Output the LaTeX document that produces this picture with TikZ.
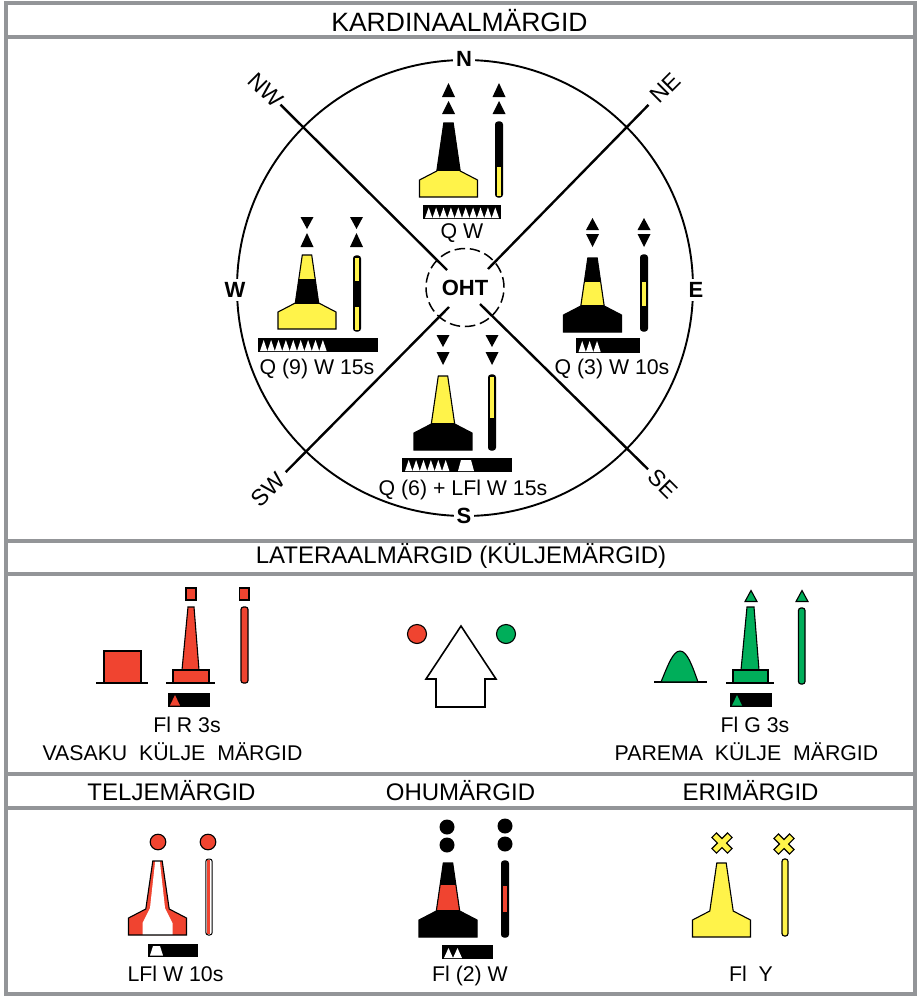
\documentclass[tikz,border=0pt]{standalone}
\usepackage{fontspec}
\setmainfont{Liberation Sans}
\definecolor{fr}{HTML}{939598}
\definecolor{mred}{HTML}{F04430}
\definecolor{mgreen}{HTML}{00AE5A}
\definecolor{myellow}{HTML}{FFF34A}
\tikzset{
 framel/.style={draw=fr,line width=4pt},
 head/.style={font=\fontsize{24}{26}\selectfont,inner sep=0pt,anchor=center},
 lab/.style={font=\fontsize{21.3}{23}\selectfont,inner sep=0pt,anchor=center},
 comp/.style={font=\fontsize{22}{24}\selectfont\bfseries,fill=white,inner sep=3pt},
 dirl/.style={font=\fontsize{23}{25}\selectfont,inner sep=1.5pt},
 ol/.style={draw=black,line width=1.1pt,line join=miter},
 spoke/.style={line width=2.4pt},
}
\def\buoypath{(-29,0) -- (-29,-17) -- (-11.7,-26) -- (-4.7,-74) -- (4.7,-74) -- (11.7,-26) -- (29,-17) -- (29,0) -- cycle}
% cx, bottom, base colour, bands
\newcommand\buoy[4]{\begin{scope}[shift={(#1,#2)}]
 \begin{scope}\clip \buoypath; \fill[#3] (-30,-80) rectangle (30,1); #4 \end{scope}
 \path[ol] \buoypath;
\end{scope}}
\newcommand\tribar[4]{\fill[black] (#1-#2,#3) -- (#1,#4) -- (#1+#2,#3) -- cycle;}
\newcommand\pole[4]{\begin{scope}
 \clip[rounded corners=2.5] (#1-3.4,#2) rectangle (#1+3.4,#3);
 \fill[black] (#1-4,#2-1) rectangle (#1+4,#3+1);
 #4
 \end{scope}
 \draw[line width=1.2pt,rounded corners=2.5] (#1-3.4,#2) rectangle (#1+3.4,#3);}
% x0, step, n, top, bottom
\newcommand\flashes[5]{\foreach \i in {1,...,#3}{
 \fill[white] ({#1+(\i-1)*#2},#5) -- ({#1+(\i-.5)*#2},#4) -- ({#1+\i*#2},#5) -- cycle;}}
\begin{document}
\begin{tikzpicture}[x=1pt,y=-1pt]
\useasboundingbox (0,0) rectangle (917,996);
\fill[white] (0,0) rectangle (917,996);
% frame
\draw[framel] (6,2.5) -- (915,2.5) -- (915,994) -- (6,994) -- cycle;
\foreach \yy in {37,541,574,774.3,807.6}{\draw[framel] (6,\yy) -- (915,\yy);}
% headers
\node[head,font=\fontsize{26.5}{28}\selectfont] (h1) at (459.5,21) {KARDINAALMÄRGID};
\node[head] (h2) at (461,556) {LATERAALMÄRGID (KÜLJEMÄRGID)};
\node[head] (h3) at (171.5,791) {TELJEMÄRGID};
\node[head] (h4) at (460.5,791) {OHUMÄRGID};
\node[head] (h5) at (750.5,791) {ERIMÄRGID};
% compass
\draw[line width=1.9pt] (465,288) circle (228);
\node[comp] (cn) at (464,59) {N};
\node[comp] (cs) at (464,516) {S};
\node[comp] (cw) at (235,290) {W};
\node[comp] (ce) at (696,290) {E};
\node[circle,draw,dash pattern=on 10.5pt off 4.8pt,line width=1.5pt,minimum size=78pt,inner sep=0pt,font=\fontsize{22}{24}\selectfont\bfseries] (oht) at (465,287.5) {OHT};
\node[dirl,rotate=-45] (nw) at (265.7,90) {NW};
\node[dirl,rotate=45] (ne) at (665,88) {NE};
\node[dirl,rotate=45] (sw) at (268,490) {SW};
\node[dirl,rotate=-45] (se) at (663,484) {SE};
\coordinate (inw) at (447,270);
\coordinate (ine) at (488,269);
\coordinate (isw) at (449,307);
\coordinate (ise) at (480,304);
\draw[spoke] (inw) -- (nw);
\draw[spoke,shorten >=6pt] (ine) -- (ne);
\draw[spoke,shorten >=5pt] (isw) -- (sw);
\draw[spoke,shorten >=4pt] (ise) -- (se);
% North
\tribar{448.5}{6.5}{97}{83}\tribar{448.5}{6.5}{114}{101}
\tribar{499}{6.5}{97}{83}\tribar{499}{6.5}{114}{101}
\buoy{448.5}{197}{myellow}{\fill[black] (-30,-80) rectangle (30,-26);}
\pole{499}{122}{197}{\fill[myellow] (499-2.4,167) rectangle (499+2.4,195.5);}
\fill[black] (423,205) rectangle (501,219);
\flashes{425}{7.4}{10}{207.5}{218}
\node[lab] (tn) at (462,233) {Q W};
% West
\tribar{307}{6.5}{217}{229}\tribar{307}{6.5}{247}{233}
\tribar{356.5}{6.5}{217}{229}\tribar{356.5}{6.5}{247}{233}
\buoy{307}{329}{myellow}{\fill[black] (-30,-50) rectangle (30,-25);}
\pole{357}{256}{331}{\fill[myellow] (357-2.4,257.5) rectangle (357+2.4,281);\fill[myellow] (357-2.4,307) rectangle (357+2.4,329.5);}
\fill[black] (258,338) rectangle (378,352);
\flashes{260}{7.4}{9}{340}{351}
\node[lab] (tw) at (317,368.5) {Q (9) W 15s};
% East
\tribar{592.5}{6.5}{230}{218}\tribar{592.5}{6.5}{234}{247}
\tribar{644}{6.5}{230}{218}\tribar{644}{6.5}{234}{247}
\buoy{592.5}{332}{black}{\fill[myellow] (-30,-50) rectangle (30,-27);}
\pole{644}{255}{331}{\fill[myellow] (644-2.4,282) rectangle (644+2.4,306);}
\fill[black] (576,338) rectangle (640,353);
\flashes{578.5}{7.4}{3}{341}{352}
\node[lab] (te) at (612,368.5) {Q (3) W 10s};
% South
\tribar{443}{6.5}{335}{347}\tribar{443}{6.5}{352}{365}
\tribar{492}{6.5}{335}{347}\tribar{492}{6.5}{352}{365}
\buoy{443}{450}{black}{\fill[myellow] (-30,-80) rectangle (30,-27);}
\pole{492}{375}{450}{\fill[myellow] (492-2.4,376.5) rectangle (492+2.4,418);}
\fill[black] (402,458) rectangle (512,472);
\flashes{405}{7.4}{6}{460}{471}
\fill[white] (458,471) -- (461,460) -- (471,460) -- (474,471) -- cycle;
\node[lab] (ts) at (463,490) {Q (6) + LFl W 15s};
% Port
\draw[line width=1.6pt] (96,683) -- (148,683);
\draw[ol,fill=mred] (104,651) rectangle (141,683);
\draw[line width=1.6pt] (166,683) -- (215,683);
\draw[ol,fill=mred] (188,607) -- (182,670) -- (199,670) -- (194,607) -- cycle;
\draw[ol,fill=mred] (173,670) rectangle (209,683);
\draw[ol,fill=mred] (186,588) rectangle (196,600);
\draw[ol,fill=mred] (239.5,588) rectangle (249,600);
\draw[line width=1.2pt,fill=mred,rounded corners=2.5] (241,607) rectangle (248,683);
\fill[black] (168,693) rectangle (210,707);
\fill[mred] (170,705.5) -- (175,695) -- (180,705.5) -- cycle;
\node[lab] (tp1) at (187,725) {Fl R 3s};
\node[lab] (tp2) at (172.5,752) {VASAKU\ \ KÜLJE\ \ MÄRGID};
% Arrow
\draw[line width=1.6pt,line join=miter] (461,626) -- (496,679) -- (485,679) -- (485,707) -- (436,707) -- (436,679) -- (426,679) -- cycle;
\draw[ol,fill=mred] (417,634) circle (9.5);
\draw[ol,fill=mgreen] (506,634) circle (9.5);
% Starboard
\draw[line width=1.6pt] (654,682) -- (707,682);
\draw[ol,fill=mgreen] (661,682) .. controls (668,665) and (673,651) .. (680,651) .. controls (687,651) and (692,665) .. (698,682) -- cycle;
\draw[line width=1.6pt] (726,683) -- (774,683);
\draw[ol,fill=mgreen] (747,607) -- (741,670) -- (759,670) -- (754,607) -- cycle;
\draw[ol,fill=mgreen] (733,670) rectangle (768,683);
\draw[ol,fill=mgreen] (745,601.5) -- (751,590.5) -- (757,601.5) -- cycle;
\draw[ol,fill=mgreen] (796,601.5) -- (802,590.5) -- (808,601.5) -- cycle;
\draw[line width=1.2pt,fill=mgreen,rounded corners=2.5] (798.5,608) rectangle (805,684);
\fill[black] (730,693) rectangle (772,707);
\fill[mgreen] (732,705.5) -- (737,695) -- (742,705.5) -- cycle;
\node[lab] (ts1) at (755,725) {Fl G 3s};
\node[lab] (ts2) at (746.5,752) {PAREMA\ \ KÜLJE\ \ MÄRGID};
% Tail
\draw[ol,fill=mred] (158,842) circle (7.8);
\draw[ol,fill=mred] (208,842) circle (7.8);
\buoy{157.5}{935}{mred}{\fill[white] (-2.2,-75) -- (2.2,-75) -- (7.5,-27) -- (15,-12) -- (15,1) -- (-15,1) -- (-15,-12) -- (-7.5,-27) -- cycle;}
\draw[line width=1pt,fill=white,rounded corners=2.5] (205.8,859) rectangle (212.2,935);
\fill[mred] (206.8,860) rectangle (209.6,934);
\fill[black] (148,944) rectangle (198,957);
\fill[white] (150,955.5) -- (153,946) -- (160,946) -- (163,955.5) -- cycle;
\node[lab] (tt) at (175.5,973.5) {LFl W 10s};
% Danger
\fill[black] (447,827) circle (7.5) (447,845) circle (7.5) (505,826) circle (7.5) (505,844) circle (7.5);
\buoy{448}{937}{black}{\fill[mred] (-30,-52) rectangle (30,-27);}
\pole{505}{861}{937}{\fill[mred] (505-2.4,886) rectangle (505+2.4,912);}
\fill[black] (442,945) rectangle (493,959);
\flashes{444}{9}{2}{948}{958}
\node[lab] (td) at (470,975.5) {Fl (2) W};
% Special
\foreach \cx/\cy in {722/843,784/844}{
 \begin{scope}[shift={(\cx,\cy)},rotate=45]
 \draw[ol,fill=myellow] (-3.2,-11) -- (3.2,-11) -- (3.2,-3.2) -- (11,-3.2) -- (11,3.2) -- (3.2,3.2) -- (3.2,11) -- (-3.2,11) -- (-3.2,3.2) -- (-11,3.2) -- (-11,-3.2) -- (-3.2,-3.2) -- cycle;
 \end{scope}}
\buoy{721.5}{937}{myellow}{}
\draw[line width=1.2pt,fill=myellow,rounded corners=2.5] (782,859) rectangle (788,936);
\node[lab] (tsp) at (751,974) {Fl\ \ Y};
\end{tikzpicture}
\end{document}
